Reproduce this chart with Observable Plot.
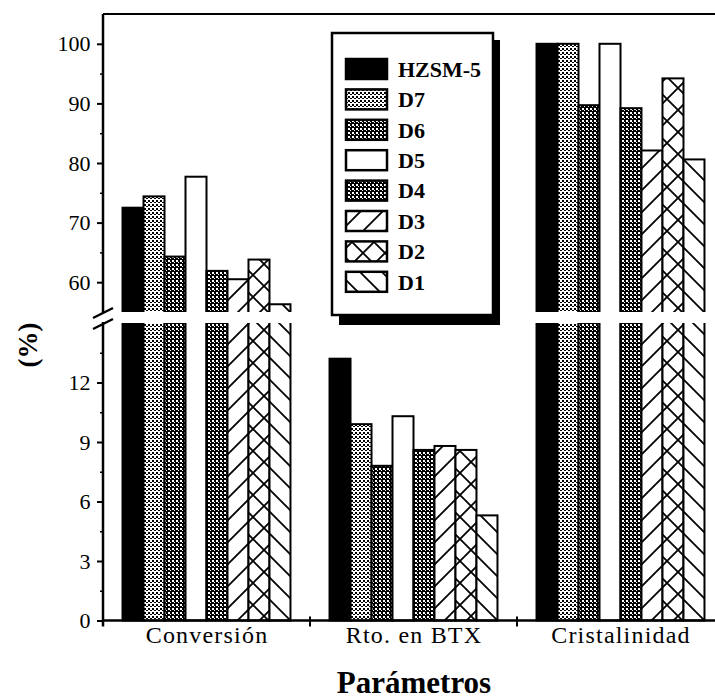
<!DOCTYPE html>
<html><head><meta charset="utf-8">
<script src="https://cdn.jsdelivr.net/npm/d3@7"></script>
<script src="https://cdn.jsdelivr.net/npm/@observablehq/plot@0.6"></script>
<style>
html,body{margin:0;padding:0;background:#fff;overflow:hidden;}
svg g[aria-label="fx-axis tick label"]{letter-spacing:1.2px;}
</style></head><body><div id="chart"></div>
<script>
// ---- data ----
const groups = ["Conversión", "Rto. en BTX", "Cristalinidad"];
const series = ["HZSM-5", "D7", "D6", "D5", "D4", "D3", "D2", "D1"];
const conversion = [72.5, 74.4, 64.3, 77.7, 61.9, 60.5, 63.8, 56.3];
const rtoBTX = [13.2, 9.9, 7.8, 10.3, 8.6, 8.8, 8.6, 5.3];
const cristalinidad = [100, 100, 89.7, 100, 89.2, 82.1, 94.2, 80.6];
const yTicks = [0, 3, 6, 9, 12, 60, 70, 80, 90, 100];
const yMinorTicks = [1.5, 4.5, 7.5, 10.5, 13.5, 65, 75, 85, 95];
const lowerDomain = [0, 15];
const upperDomain = [55, 105];
const fills = ["black", "url(#pD7)", "url(#pD6)", "white", "url(#pD4)", "url(#pD3)", "url(#pD2)", "url(#pD1)"];
const yTitle = "(%)";
const xTitle = "Parámetros";

const valuesByGroup = [conversion, rtoBTX, cristalinidad];
const rows = groups.flatMap((g, gi) => series.map((s, si) => ({group: g, series: s, value: valuesByGroup[gi][si]})));

const FONT = "'Liberation Serif', 'Times New Roman', serif";

const plot = Plot.plot({
  width: 715, height: 699,
  marginTop: 14, marginBottom: 78.5, marginLeft: 103, marginRight: 0,
  style: {fontFamily: FONT, fontSize: "22px", color: "black", background: "white"},
  fx: {domain: groups, range: [103, 724], padding: 0, label: null},
  x: {domain: series, paddingInner: 0, paddingOuter: 0.93, round: false, axis: null},
  y: {type: "linear", domain: [...lowerDomain, ...upperDomain], range: [620.5, 323, 312, 14], label: null},
  color: {domain: series, range: fills},
  marks: [
    Plot.barY(rows, {fx: "group", x: "series", y: "value", fill: "series", stroke: "black", strokeWidth: 2}),
    Plot.axisY({ticks: yTicks, tickSize: 6, tickPadding: 7, fontSize: 22, label: null, strokeWidth: 2}),
    Plot.axisY({ticks: yMinorTicks, tickSize: 3, tickPadding: 2, tickFormat: () => "", label: null, strokeWidth: 1.5}),
    Plot.axisFx({anchor: "bottom", tickSize: 0, tickPadding: 4.5, fontSize: 24, label: null})
  ]
});

const NS = "http://www.w3.org/2000/svg";
const defs = document.createElementNS(NS, "defs");
defs.innerHTML = `
<pattern id="pD7" width="4" height="4" patternUnits="userSpaceOnUse"><rect width="4" height="4" fill="#fff"/><rect width="2" height="2" fill="#000"/><rect x="2" y="2" width="2" height="1" fill="#000"/></pattern>
<pattern id="pD6" width="4" height="4" patternUnits="userSpaceOnUse"><rect width="4" height="4" fill="#000"/><rect width="2" height="2" fill="#fff"/><rect x="2" y="2" width="1" height="1" fill="#fff"/></pattern>
<pattern id="pD4" width="4" height="4" patternUnits="userSpaceOnUse"><rect width="4" height="4" fill="#000"/><rect width="2" height="2" fill="#fff"/><rect x="2" y="2" width="1" height="1" fill="#fff"/></pattern>
<pattern id="pD3" width="22" height="22" patternUnits="userSpaceOnUse"><rect width="22" height="22" fill="#fff"/><path d="M0,22L22,0M-5.5,5.5L5.5,-5.5M16.5,27.5L27.5,16.5" stroke="#000" stroke-width="1.8"/></pattern>
<pattern id="pD1" width="22" height="22" patternUnits="userSpaceOnUse"><rect width="22" height="22" fill="#fff"/><path d="M0,0L22,22M-5.5,16.5L5.5,27.5M16.5,-5.5L27.5,5.5" stroke="#000" stroke-width="1.8"/></pattern>
<pattern id="pD2" width="22" height="22" patternUnits="userSpaceOnUse"><rect width="22" height="22" fill="#fff"/><path d="M0,22L22,0M-5.5,5.5L5.5,-5.5M16.5,27.5L27.5,16.5M0,0L22,22M-5.5,16.5L5.5,27.5M16.5,-5.5L27.5,5.5" stroke="#000" stroke-width="1.8"/></pattern>`;
plot.insertBefore(defs, plot.firstChild);

const svg = d3.select(plot);
const y = plot.scale("y");
const fx = plot.scale("fx");
const color = plot.scale("color");
const yTop = y.apply(upperDomain[1]), yBreakHi = y.apply(upperDomain[0]), yBreakLo = y.apply(lowerDomain[1]), yZero = y.apply(0);
const xLeft = fx.apply(groups[0]);
const W = 715;

// cover the broken part of the axis
svg.append("rect").attr("x", 60).attr("y", yBreakHi).attr("width", W).attr("height", yBreakLo - yBreakHi).attr("fill", "white");

const lines = svg.append("g").attr("stroke", "black").attr("fill", "none");
// frame top
lines.append("line").attr("x1", xLeft).attr("x2", W).attr("y1", yTop).attr("y2", yTop).attr("stroke-width", 2);
// bottom axis
lines.append("line").attr("x1", xLeft).attr("x2", W).attr("y1", yZero).attr("y2", yZero).attr("stroke-width", 2.5);
// left axis (two segments)
lines.append("line").attr("x1", xLeft).attr("x2", xLeft).attr("y1", yTop).attr("y2", yBreakHi + 1).attr("stroke-width", 2.5);
lines.append("line").attr("x1", xLeft).attr("x2", xLeft).attr("y1", yBreakLo - 1).attr("y2", yZero + 6).attr("stroke-width", 2.5);
// break marks
lines.append("line").attr("x1", xLeft - 10).attr("y1", yBreakHi + 6).attr("x2", xLeft + 10).attr("y2", yBreakHi - 4).attr("stroke-width", 2.5);
lines.append("line").attr("x1", xLeft - 10).attr("y1", yBreakLo + 6).attr("x2", xLeft + 10).attr("y2", yBreakLo - 4).attr("stroke-width", 2.5);
// category boundary ticks
for (const g of groups.slice(1)) {
  const gx = fx.apply(g);
  lines.append("line").attr("x1", gx).attr("x2", gx).attr("y1", yZero - 4).attr("y2", yZero + 6).attr("stroke-width", 2);
}

// legend
const lg = svg.append("g").attr("text-anchor", "start");
const LX = 332, LY = 33, LW = 161, LH = 282;
lg.append("rect").attr("x", LX + 7).attr("y", LY + 7).attr("width", LW).attr("height", LH + 3).attr("fill", "black");
lg.append("rect").attr("x", LX).attr("y", LY).attr("width", LW).attr("height", LH).attr("fill", "white").attr("stroke", "black").attr("stroke-width", 2.5);
series.forEach((s, i) => {
  const cy = LY + 36 + i * 30.4;
  lg.append("rect").attr("x", LX + 14).attr("y", cy - 10).attr("width", 41).attr("height", 20)
    .attr("fill", color.apply(s)).attr("stroke", "black").attr("stroke-width", 2.5);
  lg.append("text").attr("x", LX + 66).attr("y", cy).attr("dy", "0.35em").attr("text-anchor", "start")
    .attr("font-family", FONT).attr("font-size", 22).attr("font-weight", "bold").text(s);
});

// titles
svg.append("text").attr("transform", `translate(28,345) rotate(-90)`).attr("text-anchor", "middle").attr("dy", "0.35em")
  .attr("font-family", FONT).attr("font-size", 27).attr("font-weight", "bold").text(yTitle);
svg.append("text").attr("x", 414).attr("y", 693).attr("text-anchor", "middle")
  .attr("font-family", FONT).attr("font-size", 31).attr("font-weight", "bold").text(xTitle);

document.getElementById("chart").appendChild(plot);
</script></body></html>
